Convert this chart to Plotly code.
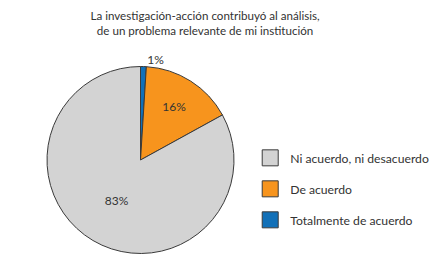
import plotly.graph_objects as go

categories = ["Ni acuerdo, ni desacuerdo", "De acuerdo", "Totalmente de acuerdo"]
values = [83, 16, 1]
colors = ["#d3d3d3", "#f7941d", "#1170b8"]
title_lines = ["La investigación-acción contribuyó al análisis,", "de un problema relevante de mi institución"]

FONT = "Lato"
W, H = 438, 264
cx, cy, r = 132.5, 152, 93.5

fig = go.Figure()
fig.add_trace(go.Pie(
    labels=categories[::-1], values=values[::-1], sort=False, direction="clockwise",
    rotation=0,
    marker=dict(colors=colors[::-1], line=dict(color="#3a3a3a", width=1)),
    texttemplate="%{value}%", textposition=["outside", "inside", "inside"],
    textfont=dict(family=FONT, size=12, color="#333333"),
    insidetextorientation="horizontal",
    domain=dict(x=[(cx - r) / W, (cx + r) / W], y=[(H - cy - r) / H, (H - cy + r) / H]),
    showlegend=False, hoverinfo="label+value",
))
for name, col in zip(categories, colors):
    fig.add_trace(go.Scatter(
        x=[None], y=[None], mode="markers", name=name,
        marker=dict(symbol="square", size=16, color=col, line=dict(color="#3a3a3a", width=1)),
        legendgroup=name, showlegend=True,
    ))

fig.update_layout(
    width=W, height=H, margin=dict(l=0, r=0, t=0, b=0),
    paper_bgcolor="white", plot_bgcolor="white",
    xaxis=dict(visible=False), yaxis=dict(visible=False),
    title=dict(text="<br>".join(title_lines), x=0.45, xanchor="center", y=0.953, yanchor="top",
               font=dict(family=FONT, size=11.6, color="#333333")),
    legend=dict(x=0.553, xanchor="left", y=0.315, yanchor="middle", tracegroupgap=12,
                font=dict(family=FONT, size=12.2, color="#333333"), itemsizing="trace",
                bgcolor="rgba(0,0,0,0)"),
)
fig.write_html("out.html")
